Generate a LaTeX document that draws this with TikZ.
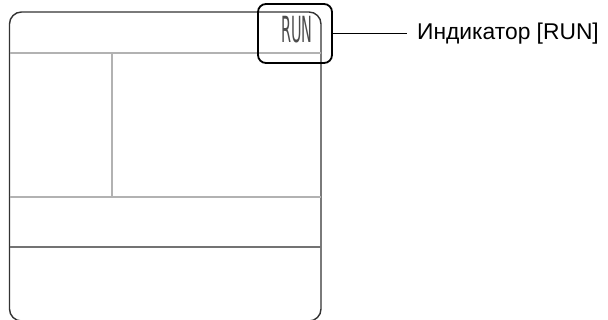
\documentclass[tikz,border=0pt]{standalone}
\usepackage{fontspec}
\setmainfont{Liberation Sans}
\newfontfamily\runfont{DejaVu Sans}
\tikzset{
  panel/.style={draw=black!80, line width=1.4pt, rounded corners=12pt},
  divline/.style={draw=black!30, line width=1.2pt},
  darkline/.style={draw=black!55, line width=1.2pt},
  hilite/.style={draw=black, line width=1.8pt, rounded corners=8pt},
  leader/.style={draw=black, line width=1pt},
}
\begin{document}
\begin{tikzpicture}[x=1pt,y=-1pt]
\useasboundingbox (0,0) rectangle (608,320);
% outer panel
\draw[panel] (9.5,12) rectangle (321,321);
\coordinate (hl) at (9.5,53);
\coordinate (hr) at (321,53);
\draw[divline] (hl) -- (hr);
\coordinate (vt) at (112,53);
\coordinate (vb) at (112,197);
\draw[divline] (vt) -- (vb);
\coordinate (m1l) at (9.5,197);
\coordinate (m1r) at (321,197);
\draw[divline] (m1l) -- (m1r);
\coordinate (m2l) at (9.5,247);
\coordinate (m2r) at (321,247);
\draw[darkline] (m2l) -- (m2r);
% RUN text
\node[inner sep=0pt, anchor=base, text=black!70] (run) at (297,43)
  {\scalebox{0.40}[1.0]{\runfont\fontsize{36}{36}\selectfont RUN}};
% highlight box
\node[hilite, minimum width=74pt, minimum height=59pt, inner sep=0pt] (hbox) at (295,33.5) {};
% label
\node[anchor=west, inner sep=0pt, font=\fontsize{22.8}{24}\selectfont] (lbl) at (417,33.5) {Индикатор [RUN]};
\coordinate (lend) at (407,33.5);
\draw[leader] (hbox.east) -- (lend);
\end{tikzpicture}
\end{document}
